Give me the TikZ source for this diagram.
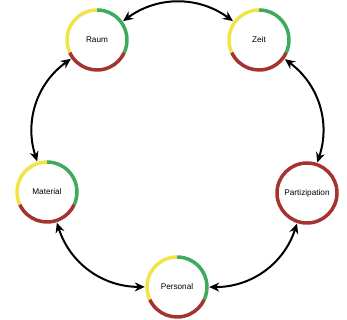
\documentclass[tikz,border=0pt]{standalone}
\usepackage{fontspec}
\setmainfont{Liberation Sans}
\usetikzlibrary{arrows.meta}
\definecolor{ringyellow}{HTML}{F2E448}
\definecolor{ringgreen}{HTML}{3DAA5E}
\definecolor{ringred}{HTML}{A5332F}
\newcommand{\stagering}[1]{%
  \draw[ringline,ringgreen] (#1.center) ++(-25:30) arc[start angle=-25,end angle=90,radius=30];
  \draw[ringline,ringyellow] (#1.center) ++(90:30) arc[start angle=90,end angle=205,radius=30];
  \draw[ringline,ringred] (#1.center) ++(205:30) arc[start angle=205,end angle=335,radius=30];}
\begin{document}
\begin{tikzpicture}[x=1pt,y=1pt,
  stage/.style={circle, minimum size=64pt, inner sep=0pt, font=\fontsize{8.2}{10}\selectfont},
  ringline/.style={line width=3.5pt},
  conn/.style={{Stealth[length=10pt,width=9pt]}-{Stealth[length=10pt,width=9pt]}, line width=2pt, bend left=36}]
\useasboundingbox[fill=white] (0,0) rectangle (347,320);
\node[stage] (raum) at (97,280) {Raum};
\node[stage] (zeit) at (259,280) {Zeit};
\node[stage] (material) at (47,128) {Material};
\node[stage] (part) at (307,127) {Partizipation};
\node[stage] (personal) at (177,33) {Personal};
\stagering{raum}
\stagering{zeit}
\stagering{material}
\stagering{personal}
\draw[ringline,ringred] (part.center) circle[radius=30];
\draw[conn] (raum) to (zeit);
\draw[conn] (zeit) to (part);
\draw[conn] (part) to (personal);
\draw[conn] (personal) to (material);
\draw[conn] (material) to (raum);
\end{tikzpicture}
\end{document}
